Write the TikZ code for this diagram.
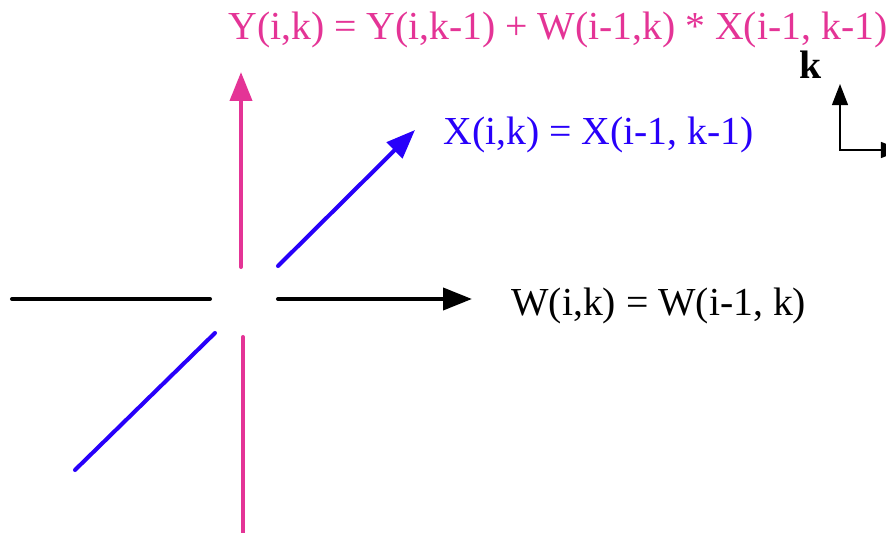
\documentclass[tikz,border=0pt]{standalone}
\usepackage{fontspec}
\setmainfont{Liberation Serif}
\usetikzlibrary{arrows.meta}
\definecolor{ypink}{RGB}{228,52,150}
\definecolor{xblue}{RGB}{40,0,250}
\tikzset{
	flow/.style={line width=2.3pt, line cap=round},
	flowtip/.style={flow, -{Triangle[length=16.5pt,width=12.5pt]}},
	axis/.style={line width=1.1pt, {Triangle[length=12pt,width=9pt]}-{Triangle[length=12pt,width=9pt]}},
	eqn/.style={anchor=base west, inner sep=0pt, font=\fontsize{22.6}{26}\selectfont}
}
\begin{document}
\begin{tikzpicture}[x=0.02cm, y=-0.02cm]
	\clip (0,0) rectangle (886,533);
	% end points of the three streams
	\coordinate (wl) at (12,299);   \coordinate (wr) at (210,299);
	\coordinate (wo) at (278,299);  \coordinate (wt) at (472,299);
	\coordinate (yb) at (243,540);  \coordinate (yi) at (243,337);
	\coordinate (yo) at (241,267);  \coordinate (yt) at (241,72);
	\coordinate (xb) at (75,470);   \coordinate (xi) at (215,333);
	\coordinate (xo) at (278,266);  \coordinate (xt) at (415,130);
	% streams
	\draw[flow] (wl) -- (wr);
	\draw[flowtip] (wo) -- (wt);
	\draw[flow, ypink] (yb) -- (yi);
	\draw[flowtip, ypink] (yo) -- (yt);
	\draw[flow, xblue] (xb) -- (xi);
	\draw[flowtip, xblue] (xo) -- (xt);
	% labels
	\node[eqn, ypink] (ylabel) at (228,40) {Y(i,k) = Y(i,k-1) + W(i-1,k) * X(i-1, k-1)};
	\node[eqn, xblue] (xlabel) at (443,145) {X(i,k) = X(i-1, k-1)};
	\node[eqn] (wlabel) at (511,316) {W(i,k) = W(i-1, k)};
	% small axes
	\coordinate (corner) at (840,150);
	\coordinate (ktip) at (840,84);
	\coordinate (itip) at (902,150);
	\draw[axis] (ktip) -- (corner) -- (itip);
	\node[eqn, font=\fontsize{22.6}{26}\selectfont\bfseries] (klabel) at (799,79) {k};
\end{tikzpicture}
\end{document}
